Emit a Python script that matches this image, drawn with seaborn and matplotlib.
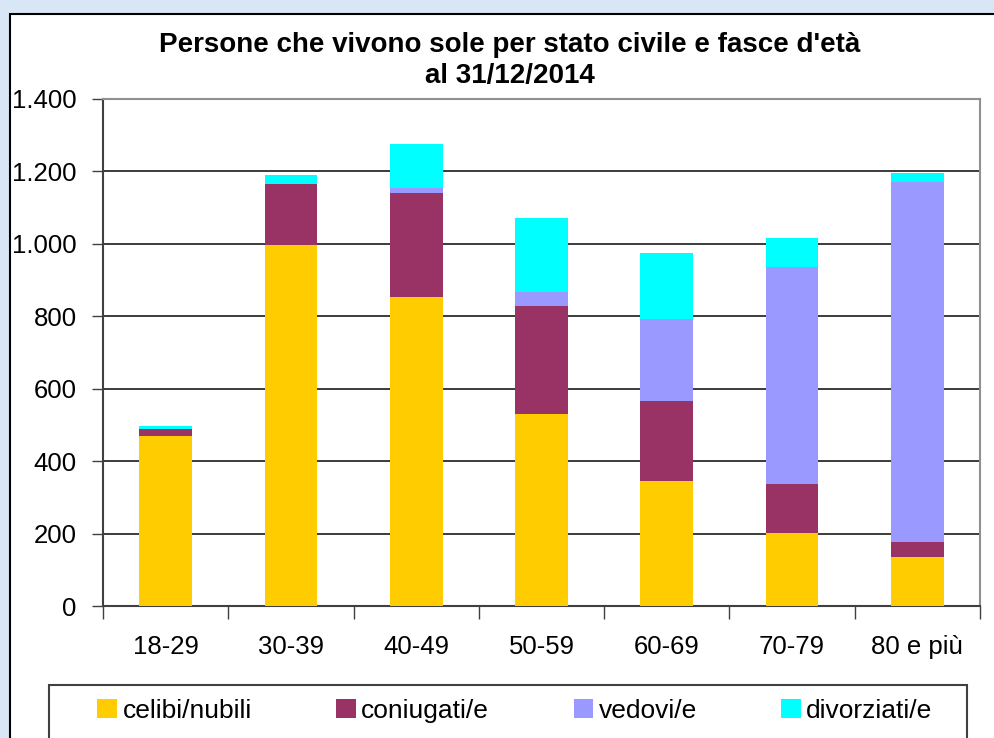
import numpy as np
import pandas as pd
import matplotlib
matplotlib.use("Agg")
import matplotlib.pyplot as plt
import seaborn as sns
from matplotlib.patches import Rectangle, Patch
from matplotlib.ticker import FuncFormatter

# data
fasce = ['18-29', '30-39', '40-49', '50-59', '60-69', '70-79', '80 e più']
celibi = [470, 997, 853, 530, 345, 202, 135]
coniugati = [19, 168, 287, 298, 221, 136, 42]
vedovi = [0, 0, 14, 40, 226, 598, 995]
divorziati = [9, 25, 121, 203, 183, 80, 24]

serie = ['celibi/nubili', 'coniugati/e', 'vedovi/e', 'divorziati/e']
colori = ['#FFCC00', '#993366', '#9999FF', '#00FFFF']

df = pd.DataFrame({'fascia': fasce, serie[0]: celibi, serie[1]: coniugati,
                   serie[2]: vedovi, serie[3]: divorziati})

sns.set_theme(style='white')
plt.rcParams['font.family'] = ['Liberation Sans', 'DejaVu Sans']

fig = plt.figure(figsize=(9.94, 7.38), dpi=100)
fig.patch.set_facecolor('#d9e6f5')
# white chart area with black border
fig.patches.append(Rectangle((10 / 994, -0.05), 1.05, 1 - 14 / 738 + 0.05,
                             transform=fig.transFigure, facecolor='white',
                             edgecolor='black', lw=1.5, zorder=-5))
# legend box
fig.patches.append(Rectangle((49 / 994, -0.01), (967 - 49) / 994, (738 - 685) / 738 + 0.01,
                             transform=fig.transFigure, facecolor='white',
                             edgecolor='#404040', lw=1.5, zorder=-4))

ax = fig.add_axes([103 / 994, 1 - 606 / 738, (980 - 103) / 994, (606 - 99) / 738])
ax.set_zorder(2)

# stacked bars: draw cumulative totals from the top series down
cum = df[serie].cumsum(axis=1)
for s, c in zip(serie[::-1], colori[::-1]):
    sns.barplot(x=df['fascia'], y=cum[s], color=c, width=0.42, ax=ax,
                saturation=1, edgecolor='none', zorder=3)

ax.set_ylim(0, 1400)
ax.set_xlim(-0.5, 6.5)
ax.set_yticks(range(0, 1401, 200))
ax.yaxis.set_major_formatter(FuncFormatter(lambda v, p: f'{int(v):,}'.replace(',', '.')))
ax.grid(axis='y', color='#1a1a1a', lw=1.2, zorder=1)
ax.set_axisbelow(True)
ax.set_xlabel('')
ax.set_ylabel('')

for sp in ax.spines.values():
    sp.set_color('#909090')
    sp.set_linewidth(1.5)
ax.spines['left'].set_color('#404040')
ax.spines['bottom'].set_color('#404040')

ax.tick_params(axis='y', length=8, width=1, color='#404040', labelsize=18.5, pad=11,
               left=True, direction='out', labelcolor='black')
ax.set_xticks(range(len(fasce)))
ax.set_xticklabels(fasce)
ax.tick_params(axis='x', which='major', length=0, labelsize=18.5, pad=21,
               labelcolor='black')
ax.set_xticks(np.arange(-0.5, 7, 1), minor=True)
ax.tick_params(axis='x', which='minor', length=9, width=1, color='#404040',
               bottom=True, direction='out')

fig.text(510 / 994, 1 - 45 / 738, "Persone che vivono sole per stato civile e fasce d'età",
         ha='center', va='center', fontsize=20, fontweight='bold', color='black')
fig.text(510 / 994, 1 - 76 / 738, "al 31/12/2014",
         ha='center', va='center', fontsize=20, fontweight='bold', color='black')

handles = [Patch(facecolor=c, edgecolor='none') for c in colori]
leg = fig.legend(handles, serie, loc='center', ncol=4,
                 bbox_to_anchor=(515 / 994, 1 - 711 / 738),
                 fontsize=19, frameon=False,
                 handlelength=0.75, handleheight=0.75, handletextpad=0.2,
                 borderaxespad=0, borderpad=0.45, columnspacing=3.2)
for t in leg.get_texts():
    t.set_color('black')

fig.savefig('out.png', dpi=100, facecolor=fig.get_facecolor())
